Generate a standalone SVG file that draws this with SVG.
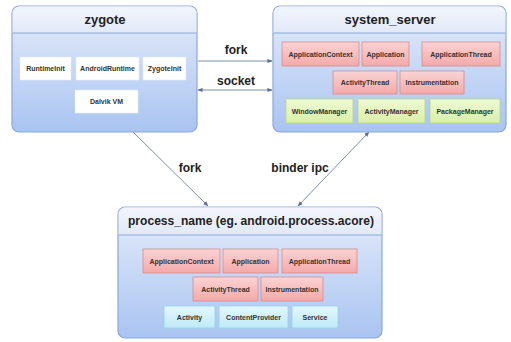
<svg xmlns="http://www.w3.org/2000/svg" width="511" height="342" viewBox="0 0 511 342">
  <defs>
    <linearGradient id="body" x1="0" y1="0" x2="0" y2="1">
      <stop offset="0" stop-color="#e4ecfa"/>
      <stop offset="1" stop-color="#a9c4f1"/>
    </linearGradient>
    <linearGradient id="head" x1="0" y1="0" x2="0" y2="1">
      <stop offset="0" stop-color="#f2f5fc"/>
      <stop offset="1" stop-color="#e1e9f8"/>
    </linearGradient>
    <linearGradient id="pink" x1="0" y1="0" x2="0" y2="1">
      <stop offset="0" stop-color="#fbd3d3"/>
      <stop offset="1" stop-color="#f4a9a9"/>
    </linearGradient>
    <linearGradient id="green" x1="0" y1="0" x2="0" y2="1">
      <stop offset="0" stop-color="#effad6"/>
      <stop offset="1" stop-color="#d9f0a6"/>
    </linearGradient>
    <linearGradient id="cyan" x1="0" y1="0" x2="0" y2="1">
      <stop offset="0" stop-color="#e3f8fd"/>
      <stop offset="1" stop-color="#bfeaf8"/>
    </linearGradient>
    <marker id="ah" viewBox="0 0 6 6" refX="5.5" refY="3" markerWidth="5" markerHeight="5" orient="auto-start-reverse">
      <path d="M0,0.5 L6,3 L0,5.5 z" fill="#5a6f93"/>
    </marker>
    <style>
      .box { fill: url(#body); stroke: #8ba8db; stroke-width: 1.2; }
      .hd { fill: url(#head); }
      .sep { stroke: #8ba8db; stroke-width: 1; }
      .title { font-family: "Liberation Sans", Arial, sans-serif; font-weight: bold; font-size: 13px; fill: #222; text-anchor: middle; }
      .w { fill: #ffffff; stroke: #e4e9f2; stroke-width: 0.6; }
      .p { fill: url(#pink); stroke: #d98a8a; stroke-width: 0.8; }
      .g { fill: url(#green); stroke: #b7d67e; stroke-width: 0.8; }
      .c { fill: url(#cyan); stroke: #95d2e6; stroke-width: 0.8; }
      .t { font-family: "Liberation Sans", Arial, sans-serif; font-weight: bold; font-size: 7px; fill: #333; text-anchor: middle; }
      .edge { stroke: #7f8ea8; stroke-width: 1; fill: none; marker-end: url(#ah); }
      .both { marker-start: url(#ah); }
      .lbl { font-family: "Liberation Sans", Arial, sans-serif; font-weight: bold; font-size: 12px; fill: #222; text-anchor: middle; }
    </style>
  </defs>

  <rect width="511" height="342" fill="#ffffff"/>

  <!-- connectors -->
  <g id="connectors">
    <line class="edge" x1="198" y1="61" x2="272" y2="61"/>
    <text class="lbl" x="236" y="54">fork</text>
    <line class="edge both" x1="198" y1="90" x2="272" y2="90"/>
    <text class="lbl" x="236" y="85">socket</text>
    <line class="edge" x1="133" y1="132" x2="208" y2="206"/>
    <text class="lbl" x="190" y="172">fork</text>
    <line class="edge both" x1="298" y1="206" x2="369" y2="132"/>
    <text class="lbl" x="300" y="172">binder ipc</text>
  </g>

  <!-- zygote -->
  <g id="zygote">
    <rect class="box" x="12" y="6" width="185" height="126" rx="7"/>
    <path class="hd" d="M19,6.6 H190 a6.4,6.4 0 0 1 6.4,6.4 V33 H12.6 V13 a6.4,6.4 0 0 1 6.4,-6.4 z"/>
    <line class="sep" x1="12.6" y1="33" x2="196.4" y2="33"/>
    <text class="title" x="105" y="24">zygote</text>
    <rect class="w" x="20" y="57" width="51" height="23"/>
    <text class="t" x="45.5" y="71">RuntimeInit</text>
    <rect class="w" x="76" y="57" width="63" height="23"/>
    <text class="t" x="107.5" y="71">AndroidRuntime</text>
    <rect class="w" x="143" y="57" width="43" height="23"/>
    <text class="t" x="164.5" y="71">ZygoteInit</text>
    <rect class="w" x="75" y="90" width="63" height="23"/>
    <text class="t" x="106.5" y="104">Dalvik VM</text>
  </g>

  <!-- system_server -->
  <g id="system_server">
    <rect class="box" x="273" y="6" width="233" height="126" rx="7"/>
    <path class="hd" d="M280,6.6 H499 a6.4,6.4 0 0 1 6.4,6.4 V33 H273.6 V13 a6.4,6.4 0 0 1 6.4,-6.4 z"/>
    <line class="sep" x1="273.6" y1="33" x2="505.4" y2="33"/>
    <text class="title" x="390" y="24">system_server</text>
    <rect class="p" x="282" y="42" width="77" height="24"/>
    <text class="t" x="320.5" y="56.5">ApplicationContext</text>
    <rect class="p" x="362" y="42" width="47" height="24"/>
    <text class="t" x="385.5" y="56.5">Application</text>
    <rect class="p" x="422" y="42" width="78" height="24"/>
    <text class="t" x="461" y="56.5">ApplicationThread</text>
    <rect class="p" x="333" y="71" width="64" height="23"/>
    <text class="t" x="365" y="85">ActivityThread</text>
    <rect class="p" x="400" y="71" width="64" height="23"/>
    <text class="t" x="432" y="85">Instrumentation</text>
    <rect class="g" x="286" y="99" width="67" height="24"/>
    <text class="t" x="319.5" y="113.5">WindowManager</text>
    <rect class="g" x="358" y="99" width="67" height="24"/>
    <text class="t" x="391.5" y="113.5">ActivityManager</text>
    <rect class="g" x="430" y="99" width="70" height="24"/>
    <text class="t" x="465" y="113.5">PackageManager</text>
  </g>

  <!-- application process -->
  <g id="process">
    <rect class="box" x="118" y="207" width="264" height="131" rx="7"/>
    <path class="hd" d="M125,207.6 H375 a6.4,6.4 0 0 1 6.4,6.4 V235 H118.6 V214 a6.4,6.4 0 0 1 6.4,-6.4 z"/>
    <line class="sep" x1="118.6" y1="235" x2="381.4" y2="235"/>
    <text class="title" x="251" y="225" font-size="12.5" textLength="246" lengthAdjust="spacingAndGlyphs">process_name (eg. android.process.acore)</text>
    <rect class="p" x="143" y="249" width="77" height="24"/>
    <text class="t" x="181.5" y="263.5">ApplicationContext</text>
    <rect class="p" x="223" y="249" width="55" height="24"/>
    <text class="t" x="250.5" y="263.5">Application</text>
    <rect class="p" x="282" y="249" width="75" height="24"/>
    <text class="t" x="319.5" y="263.5">ApplicationThread</text>
    <rect class="p" x="193" y="277" width="65" height="24"/>
    <text class="t" x="225.5" y="291.5">ActivityThread</text>
    <rect class="p" x="261" y="277" width="62" height="24"/>
    <text class="t" x="292" y="291.5">Instrumentation</text>
    <rect class="c" x="164" y="306" width="51" height="22"/>
    <text class="t" x="189.5" y="319.5">Activity</text>
    <rect class="c" x="219" y="306" width="69" height="22"/>
    <text class="t" x="253.5" y="319.5">ContentProvider</text>
    <rect class="c" x="292" y="306" width="46" height="22"/>
    <text class="t" x="315" y="319.5">Service</text>
  </g>
</svg>
